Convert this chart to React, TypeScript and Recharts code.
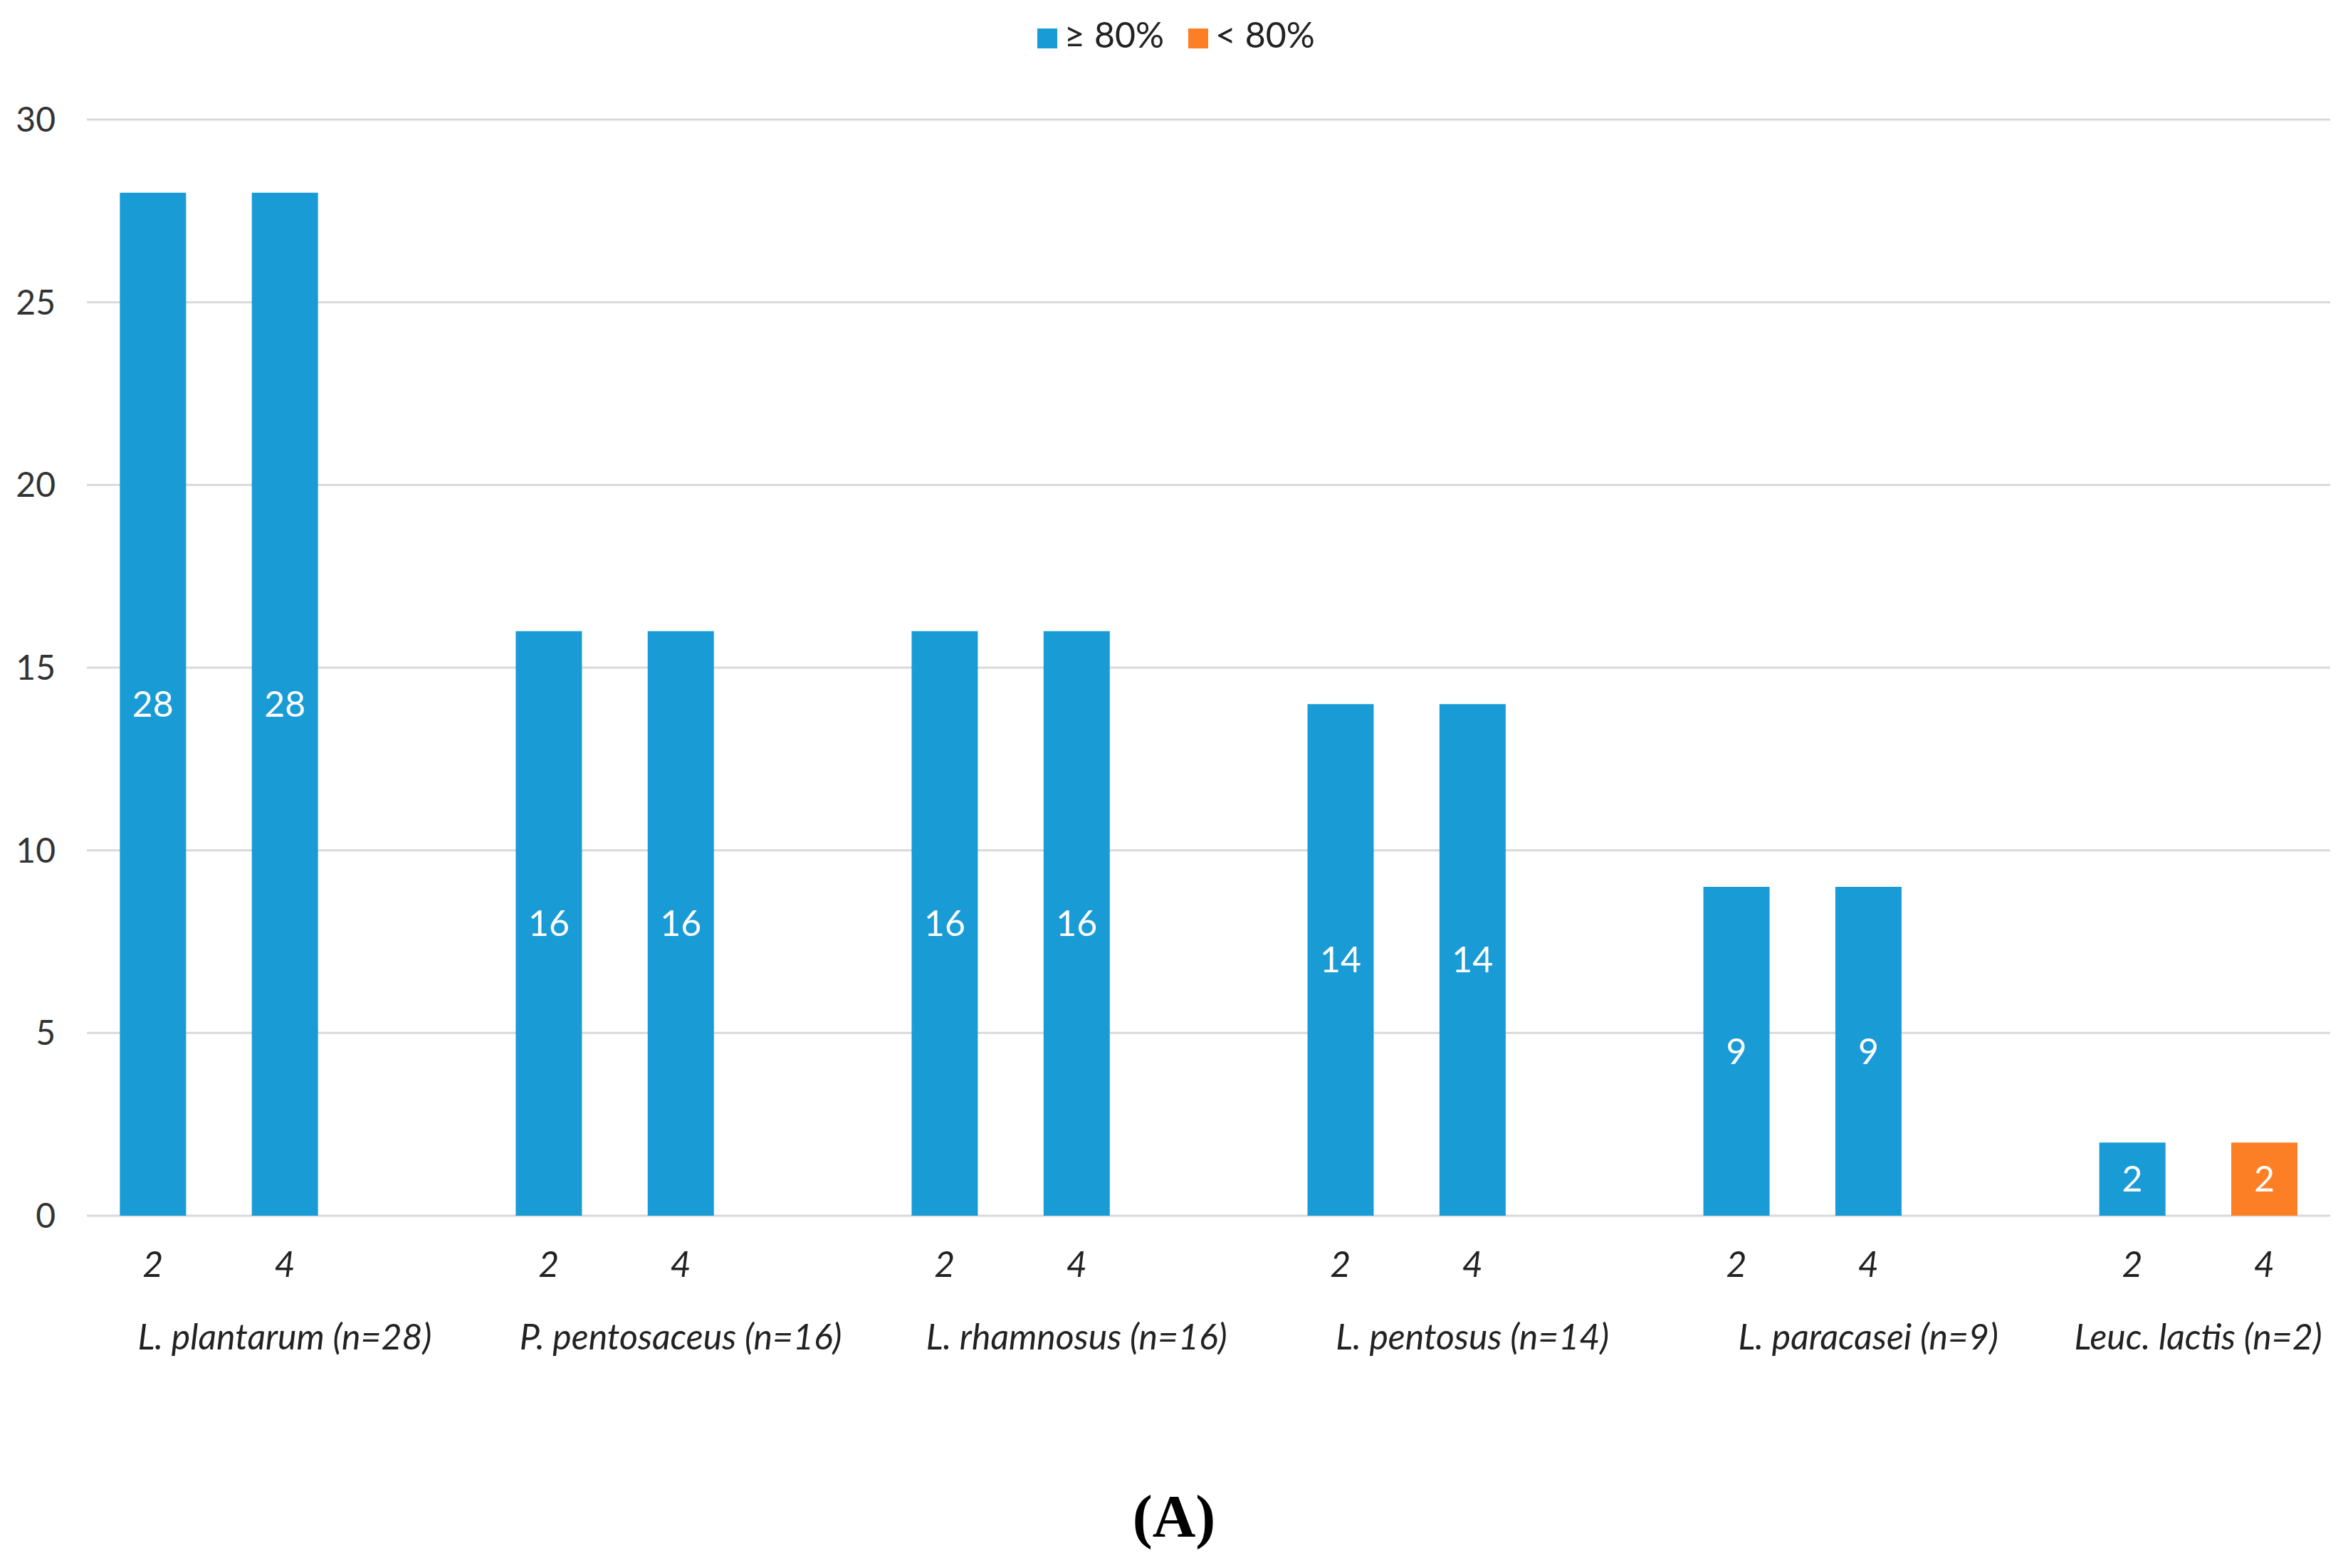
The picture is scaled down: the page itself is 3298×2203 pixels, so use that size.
import { BarChart, Bar, XAxis, YAxis, CartesianGrid, Legend, LabelList } from "recharts";

// species groups, sampled at two time points (h)
const groups = [
  "L. plantarum (n=28)",
  "P. pentosaceus (n=16)",
  "L. rhamnosus (n=16)",
  "L. pentosus (n=14)",
  "L. paracasei (n=9)",
  "Leuc. lactis (n=2)",
];
const timepoints = ["2", "4"];
const above80 = [[28, 28], [16, 16], [16, 16], [14, 14], [9, 9], [2, 0]];
const below80 = [[0, 0], [0, 0], [0, 0], [0, 0], [0, 0], [0, 2]];
const yTicks = [0, 5, 10, 15, 20, 25, 30];

const BLUE = "#199bd6";
const ORANGE = "#fd7f25";
const FONT = "Lato, 'Open Sans', sans-serif";

type Row = { tick: string; slot: number; hi: number | null; lo: number | null };
const rows: Row[] = [];
const groupCenters: number[] = [];
groups.forEach((g, gi) => {
  const start = rows.length;
  timepoints.forEach((t, ti) => {
    rows.push({ tick: t, slot: rows.length + 0.5, hi: above80[gi][ti], lo: below80[gi][ti] });
  });
  // excel leaves an empty slot between groups
  if (gi < groups.length - 1) rows.push({ tick: "", slot: rows.length + 0.5, hi: null, lo: null });
  groupCenters.push((start + rows.length) / 2);
});

const groupName = (v: number) => {
  const i = groupCenters.indexOf(v);
  return i >= 0 ? groups[i] : "";
};

const hideZero = (v: unknown) => (typeof v === "number" && v > 0 ? v : "");

export default function App() {
  return (
    <div style={{ position: "absolute", left: 0, top: 0, width: 3298, height: 2203, background: "#fff" }}>
      <BarChart
        width={3298}
        height={2000}
        data={rows}
        margin={{ top: 108, right: 25, left: 0, bottom: 92 }}
        barCategoryGap="25%"
      >
        <CartesianGrid vertical={false} stroke="#d9d9d9" strokeWidth={3} />
        <Legend
          verticalAlign="top"
          align="center"
          iconType="square"
          iconSize={28}
          itemSorter={(item: { dataKey?: unknown }) => (item.dataKey === "hi" ? 0 : 1)}
          wrapperStyle={{ fontFamily: FONT, fontSize: 50, top: 18, left: 8, width: 3298 }}
          formatter={(value: string, _e: unknown, i: number) => (
            <span style={{ color: "#222", paddingLeft: 6, marginRight: i === 0 ? 24 : 0 }}>{value}</span>
          )}
        />
        <XAxis
          dataKey="tick"
          axisLine={false}
          tickLine={false}
          tickSize={0}
          tickMargin={50}
          height={100}
          interval={0}
          tick={{ fontSize: 50, fontStyle: "italic", fill: "#222", fontFamily: FONT }}
        />
        <XAxis
          xAxisId="grp"
          dataKey="slot"
          type="number"
          domain={[0, rows.length]}
          ticks={groupCenters}
          tickFormatter={groupName}
          allowDataOverflow
          axisLine={false}
          tickLine={false}
          tickSize={0}
          tickMargin={52}
          height={100}
          interval={0}
          tick={{ fontSize: 50, fontStyle: "italic", fill: "#222", fontFamily: FONT }}
        />
        <YAxis
          domain={[0, 30]}
          ticks={yTicks}
          width={122}
          axisLine={false}
          tickLine={false}
          tickSize={0}
          tickMargin={44}
          tick={{ fontSize: 48, fill: "#333", fontFamily: FONT }}
        />
        <Bar dataKey="hi" name="≥ 80%" stackId="a" fill={BLUE} isAnimationActive={false}>
          <LabelList dataKey="hi" position="center" formatter={hideZero} fill="#fff" fontSize={50} fontFamily={FONT} />
        </Bar>
        <Bar dataKey="lo" name="< 80%" stackId="a" fill={ORANGE} isAnimationActive={false}>
          <LabelList dataKey="lo" position="center" formatter={hideZero} fill="#fff" fontSize={50} fontFamily={FONT} />
        </Bar>
      </BarChart>
      <div
        style={{
          position: "absolute",
          left: 0,
          top: 2089,
          width: 3298,
          textAlign: "center",
          fontFamily: "'Liberation Serif', serif",
          fontWeight: "bold",
          fontSize: 84,
          lineHeight: 1,
        }}
      >
        (A)
      </div>
    </div>
  );
}
